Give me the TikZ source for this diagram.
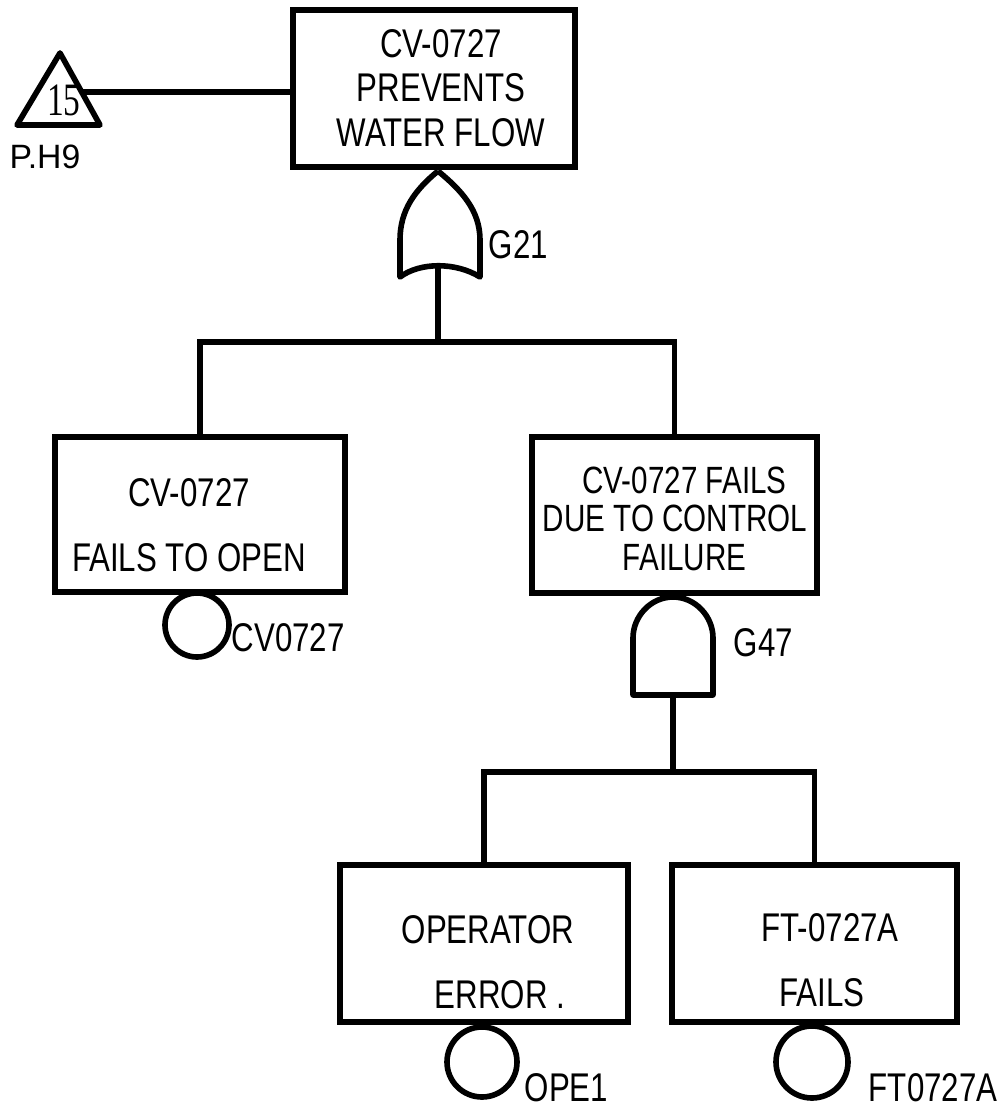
\documentclass[tikz,border=0pt]{standalone}
\usepackage{fontspec}
\setmainfont{Liberation Sans}[FakeStretch=0.78]
\newfontfamily\plainsans{Liberation Sans}
\newfontfamily\numserif{Liberation Serif}[FakeStretch=0.72]
\newcommand\upx{0.025cm}
\begin{document}
\begin{tikzpicture}[x=0.025cm, y=-0.025cm, line width=4pt,
  box/.style={draw, rectangle, inner sep=0pt},
  txt/.style={align=center, inner sep=0pt, font=\fontsize{28.5}{#1}\selectfont},
  lbl/.style={inner sep=0pt, font=\fontsize{28.5}{30}\selectfont},
  event/.style={draw, circle, inner sep=0pt, minimum size=#1*\upx},
  gate/.style={draw, line join=round}]
\useasboundingbox (0,0) rectangle (1001,1112);

% transfer triangle
\draw[line join=round] (60,53) -- (100,125) -- (17,125) -- cycle;
\coordinate (triR) at (82,92);
\node[inner sep=0pt, font=\numserif\fontsize{33}{33}\selectfont] (tri15) at (64,100) {15};
\node[inner sep=0pt, font=\plainsans\fontsize{24}{25}\selectfont] (triref) at (45,157) {P.H9};

% boxes
\node[box, minimum width=282*\upx, minimum height=157*\upx] (top) at (434,88.5) {};
\node[txt=31.7pt] (toptxt) at (441,88) {CV-0727\\PREVENTS\\WATER FLOW};

\node[box, minimum width=290*\upx, minimum height=155*\upx] (L) at (200,514.5) {};
\node[txt=46.2pt] (Ltxt) at (189,525.5) {CV-0727\\FAILS TO OPEN};

\node[box, minimum width=285*\upx, minimum height=156*\upx] (R) at (674.5,515) {};
\node[txt=27.4pt, font=\fontsize{27}{27.4}\selectfont] (Rtxt) at (675,518.5) {\hspace*{0.5em}CV-0727 FAILS\\DUE TO CONTROL\\\hspace*{0.5em}FAILURE};

\node[box, minimum width=288*\upx, minimum height=157*\upx] (OP) at (484,943.5) {};
\node[txt=46.2pt] (OPtxt) at (488,962.5) {OPERATOR\\\hspace*{0.6em}ERROR .};

\node[box, minimum width=285*\upx, minimum height=157*\upx] (FT) at (814.5,943.5) {};
\node[txt=46.2pt] (FTtxt) at (822,960.5) {\hspace*{0.4em}FT-0727A\\FAILS};

% OR gate G21
\draw[gate] (438,171) .. controls (415,190) and (400,210) .. (400,240) -- (400,277)
  .. controls (420,262) and (456,262) .. (480,277) -- (480,240)
  .. controls (480,210) and (461,190) .. (438,171);
\coordinate (g21) at (438,266);
\node[lbl, anchor=west] (g21l) at (486,245) {G21};

% AND gate G47
\draw[gate] (633,695) -- (633,638) .. controls (633,616) and (651,597) .. (673,597)
  .. controls (695,597) and (713,616) .. (713,638) -- (713,695) -- cycle;
\coordinate (g47) at (673,695);
\node[lbl, anchor=west] (g47l) at (731,643) {G47};

% basic events
\node[event=64] (e1) at (197,625) {};
\node[lbl, anchor=west] (e1l) at (229,638) {CV0727};
\node[event=70] (e2) at (482,1062) {};
\node[lbl, anchor=west] (e2l) at (522,1088) {OPE1};
\node[event=72] (e3) at (812,1062) {};
\node[lbl, anchor=west] (e3l) at (866,1088) {FT0727A};

% connectors
\draw (triR) -- (top.west |- triR);
\coordinate (bus1) at (438,342);
\draw (g21) -- (bus1);
\draw (L.north) |- (bus1) -| (R.north);
\coordinate (bus2) at (673,772);
\draw (g47) -- (bus2);
\draw (OP.north) |- (bus2) -| (FT.north);
\end{tikzpicture}
\end{document}
